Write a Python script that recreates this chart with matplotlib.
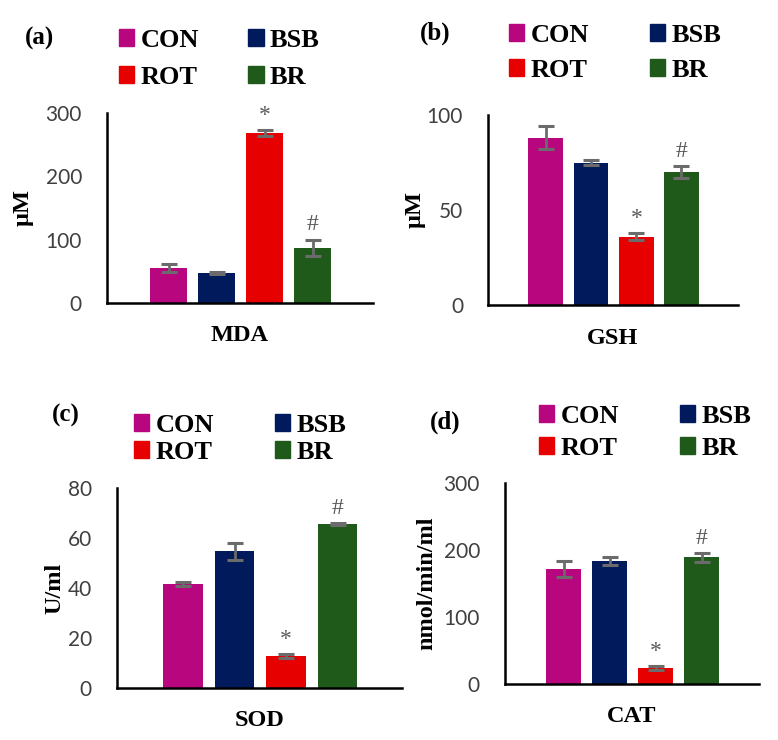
import numpy as np
import matplotlib.pyplot as plt
from matplotlib.patches import Patch

groups = ['CON', 'BSB', 'ROT', 'BR']
colors = ['#B8067F', '#001A5C', '#E60000', '#1F5A1A']

# values (mean, error)
mda = [55, 47, 268, 87]
mda_err = [6, 2, 5, 13]
gsh = [88, 75, 36, 70]
gsh_err = [6, 1.5, 2, 3]
sod = [41.6, 54.8, 12.8, 65.6]
sod_err = [0.8, 3.4, 0.8, 0.4]
cat = [172, 184, 24, 189]
cat_err = [12, 6, 3, 7]

marks = ['', '', '*', '#']      # same significance marks on every panel

W, H = 778, 740
fig = plt.figure(figsize=(W / 100, H / 100), dpi=100)

serif = 'Liberation Serif'
tickfont = 'Lato'


def px_axes(x0, y0, x1, y1):
    return fig.add_axes([x0 / W, 1 - y1 / H, (x1 - x0) / W, (y1 - y0) / H])


def panel(box, vals, errs, ymax, yticks, name, ylab, ylab_x, tag, tag_xy,
          leg_xy, rowsp, colsp):
    ax = px_axes(*box)
    x = np.arange(len(groups))
    ax.bar(x, vals, width=0.77, color=colors, zorder=2)
    ax.errorbar(x, vals, yerr=errs, fmt='none', ecolor='#6b6b6b', elinewidth=2,
                capsize=6, capthick=2.2, zorder=3)
    for xi, v, e, s in zip(x, vals, errs, marks):
        if s:
            ax.annotate(s, (xi, v + e), xytext=(0, 3), textcoords='offset points',
                        ha='center', va='bottom', fontsize=17, color='#595959',
                        family=serif)
    ax.set_xlim(-1.28, 4.25)
    ax.set_ylim(0, ymax)
    ax.set_yticks(yticks)
    ax.set_xticks([])
    for lab in ax.get_yticklabels():
        lab.set_fontfamily(tickfont)
    ax.tick_params(axis='y', length=0, pad=18, labelsize=15, labelcolor='#404040')
    for sp in ['top', 'right']:
        ax.spines[sp].set_visible(False)
    for sp in ['left', 'bottom']:
        ax.spines[sp].set_linewidth(1.8)
    ax.set_facecolor('none')
    ax.text(0.5, -33 / (box[3] - box[1]), name, transform=ax.transAxes,
            ha='center', va='center', fontsize=17.5, fontweight='bold', family=serif)
    ax.text(ylab_x, 0.5, ylab, transform=ax.transAxes, rotation=90,
            ha='center', va='center', fontsize=17.5, fontweight='bold', family=serif)
    fig.text(tag_xy[0] / W, 1 - tag_xy[1] / H, tag, ha='left', va='center',
             fontsize=18, fontweight='bold', family=serif)
    handles = [Patch(color=c, label=g) for c, g in zip(colors, groups)]
    order = [0, 2, 1, 3]
    fig.legend([handles[i] for i in order], [groups[i] for i in order], ncol=2,
               loc='upper left', bbox_to_anchor=(leg_xy[0] / W, 1 - leg_xy[1] / H),
               frameon=False, prop={'family': serif, 'weight': 'bold', 'size': 19},
               handlelength=0.58, handleheight=0.58, handletextpad=0.25,
               labelspacing=rowsp, columnspacing=colsp, borderpad=0, borderaxespad=0)
    return ax


panel((107, 113, 373, 303), mda, mda_err, 300, [0, 100, 200, 300], 'MDA', 'µM',
      -0.316, '(a)', (25, 38), (119, 29), 0.52, 1.85)
panel((488, 115, 738, 305), gsh, gsh_err, 100, [0, 50, 100], 'GSH', 'µM',
      -0.292, '(b)', (420, 33), (509, 24), 0.45, 2.3)
panel((117, 488, 402, 688), sod, sod_err, 80, [0, 20, 40, 60, 80], 'SOD', 'U/ml',
      -0.218, '(c)', (52, 415), (134, 414), 0.15, 2.3)
panel((505, 483, 759, 684), cat, cat_err, 300, [0, 100, 200, 300], 'CAT',
      'nmol/min/ml', -0.307, '(d)', (430, 422), (539, 405), 0.34, 2.3)

fig.savefig('out.png', dpi=100)
